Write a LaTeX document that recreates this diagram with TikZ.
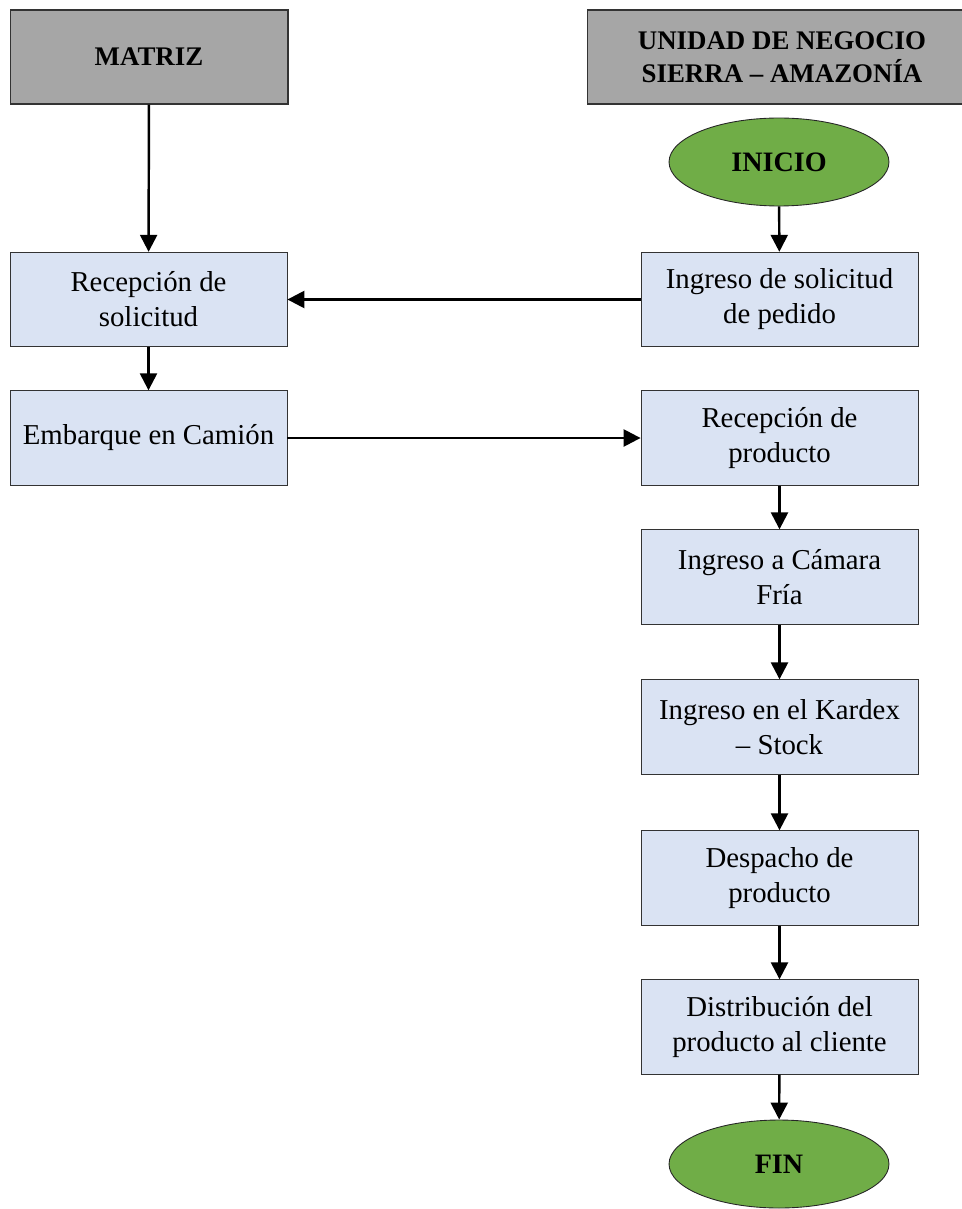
\documentclass[tikz,border=0pt]{standalone}
\usepackage{fontspec}
\setmainfont{Liberation Serif}
\usepackage{xcolor}
\usetikzlibrary{shapes.geometric}
\usetikzlibrary{arrows.meta}
\definecolor{headgray}{HTML}{A6A6A6}
\definecolor{boxblue}{HTML}{DAE3F3}
\definecolor{endgreen}{HTML}{70AD47}
\tikzset{
    headbox/.style = {rectangle, draw=black!80, fill=headgray, align=center, line width=0.6pt,
        minimum width=5.56cm, minimum height=1.88cm, inner sep=0pt,
        font=\fontsize{15.3}{18.8}\selectfont\bfseries},
    procbox/.style = {rectangle, draw=black!80, fill=boxblue, align=center, line width=0.5pt,
        minimum width=5.54cm, minimum height=1.89cm, inner sep=0pt,
        font=\fontsize{16.4}{19.9}\selectfont},
    endnode/.style = {ellipse, draw=black!85, fill=endgreen, line width=0.5pt,
        minimum width=4.4cm, minimum height=1.76cm, inner sep=0pt,
        font=\fontsize{16}{19}\selectfont\bfseries},
}
\begin{document}
\begin{tikzpicture}[
	x=0.02cm, y=-0.02cm,
	flow/.style = {-{Triangle[length=0.34cm,width=0.34cm]}, line width=1.4pt, black}
]
\clip (0,0) rectangle (962,1209);
% headers
\node[headbox] at (149,57) (matriz) {MATRIZ};
\node[headbox, minimum width=7.8cm] at (782,57) (unidad) {UNIDAD DE NEGOCIO\\SIERRA -- AMAZONÍA};
%
\node[endnode] at (779,162) (inicio) {INICIO};
\node[procbox] at (148.5,299.5) (recsol) {Recepción de\\solicitud};
\node[procbox] at (779.5,299.5) (ingsol) {Ingreso de solicitud\\de pedido};
\node[procbox] at (148.5,438) (embarque) {Embarque en Camión};
\node[procbox] at (779.5,438) (recprod) {Recepción de\\producto};
\node[procbox] at (779.5,577) (camara) {Ingreso a Cámara\\Fría};
\node[procbox] at (779.5,727) (kardex) {Ingreso en el Kardex\\-- Stock};
\node[procbox] at (779.5,878) (despacho) {Despacho de\\producto};
\node[procbox] at (779.5,1027) (distrib) {Distribución del\\producto al cliente};
\node[endnode] at (779,1164) (fin) {FIN};
%
\draw[flow] (matriz) -- (recsol);
\draw[flow] (inicio) -- (ingsol);
\draw[flow] (ingsol) -- (recsol);
\draw[flow] (recsol) -- (embarque);
\draw[flow] (embarque) -- (recprod);
\draw[flow] (recprod) -- (camara);
\draw[flow] (camara) -- (kardex);
\draw[flow] (kardex) -- (despacho);
\draw[flow] (despacho) -- (distrib);
\draw[flow] (distrib) -- (fin);
\end{tikzpicture}
\end{document}
